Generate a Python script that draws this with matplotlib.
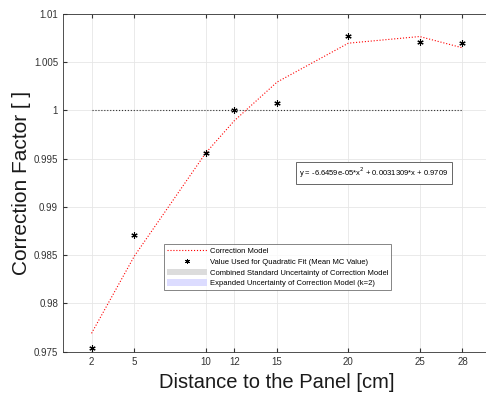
import matplotlib
matplotlib.use('Agg')
import matplotlib.pyplot as plt
from matplotlib.patches import Patch
from matplotlib.lines import Line2D

plt.rcParams['font.family'] = ['Liberation Sans', 'DejaVu Sans']

# distances to the panel [cm]
distance = [2, 5, 10, 12, 15, 20, 25, 28]
# mean MC correction factors used for the quadratic fit
mc_value = [0.9754, 0.9871, 0.99555, 1.0000, 1.00072, 1.00766, 1.00707, 1.00697]
# correction model evaluated at each distance
model = [0.97690, 0.98489, 0.99556, 0.99890, 1.00291, 1.00694, 1.00763, 1.00646]
fit_label = 'y = -6.6459e-05*x$^2$ + 0.0031309*x + 0.9709'

yticks = [0.975, 0.98, 0.985, 0.99, 0.995, 1.0, 1.005, 1.01]
ytick_labels = ['0.975', '0.98', '0.985', '0.99', '0.995', '1', '1.005', '1.01']

fig = plt.figure(figsize=(4.86, 3.94), dpi=100)
ax = fig.add_axes([0.1296, 0.1074, 0.8807, 0.858])

ax.plot([distance[0], distance[-1]], [1, 1], ':', color='#333333', lw=0.8)
ax.plot(distance, model, ':', color='red', lw=0.8)
ax.plot(distance, mc_value, linestyle='none', marker=(6, 2, 0), color='black',
        markersize=4.5, markeredgewidth=0.8)

ax.set_xlim(0, 30)
ax.set_ylim(0.975, 1.01)
ax.set_xticks(distance)
ax.set_xticklabels([str(d) for d in distance])
ax.set_yticks(yticks)
ax.set_yticklabels(ytick_labels)
ax.grid(True, color='#e6e6e6', lw=0.6)
ax.set_axisbelow(True)
ax.tick_params(direction='in', labelsize=7, colors='#333333', length=3,
               top=True, right=False)
for s in ax.spines.values():
    s.set_color('#333333')
    s.set_linewidth(0.6)

ax.set_xlabel('Distance to the Panel [cm]', fontsize=14.5, labelpad=5, color='#1a1a1a')
ax.set_ylabel('Correction Factor [ ]', fontsize=15, labelpad=2, color='#1a1a1a')

# fit equation box
ax.text(0.552, 0.5285, fit_label, transform=ax.transAxes, fontsize=5.5,
        va='center', ha='left',
        bbox=dict(boxstyle='square,pad=0.45', fc='white', ec='#666666', lw=0.7))

handles = [
    Line2D([], [], ls=':', color='red', lw=0.8),
    Line2D([], [], ls='none', marker=(6, 2, 0), color='black', markersize=3.5,
           markeredgewidth=0.7),
    Patch(facecolor='#dcdcdc', edgecolor='none'),
    Patch(facecolor='#dcdcff', edgecolor='none'),
]
labels = [
    'Correction Model',
    'Value Used for Quadratic Fit (Mean MC Value)',
    'Combined Standard Uncertainty of Correction Model',
    'Expanded Uncertainty of Correction Model (k=2)',
]
leg = ax.legend(handles, labels, loc='upper left', bbox_to_anchor=(0.2355, 0.3182),
                fontsize=5.5, frameon=True, fancybox=False, borderpad=0.4,
                labelspacing=0.35, handlelength=5.2, handleheight=1.0,
                handletextpad=0.4, borderaxespad=0)
leg.get_frame().set_edgecolor('#666666')
leg.get_frame().set_linewidth(0.7)

fig.savefig('out.png', dpi=100)
